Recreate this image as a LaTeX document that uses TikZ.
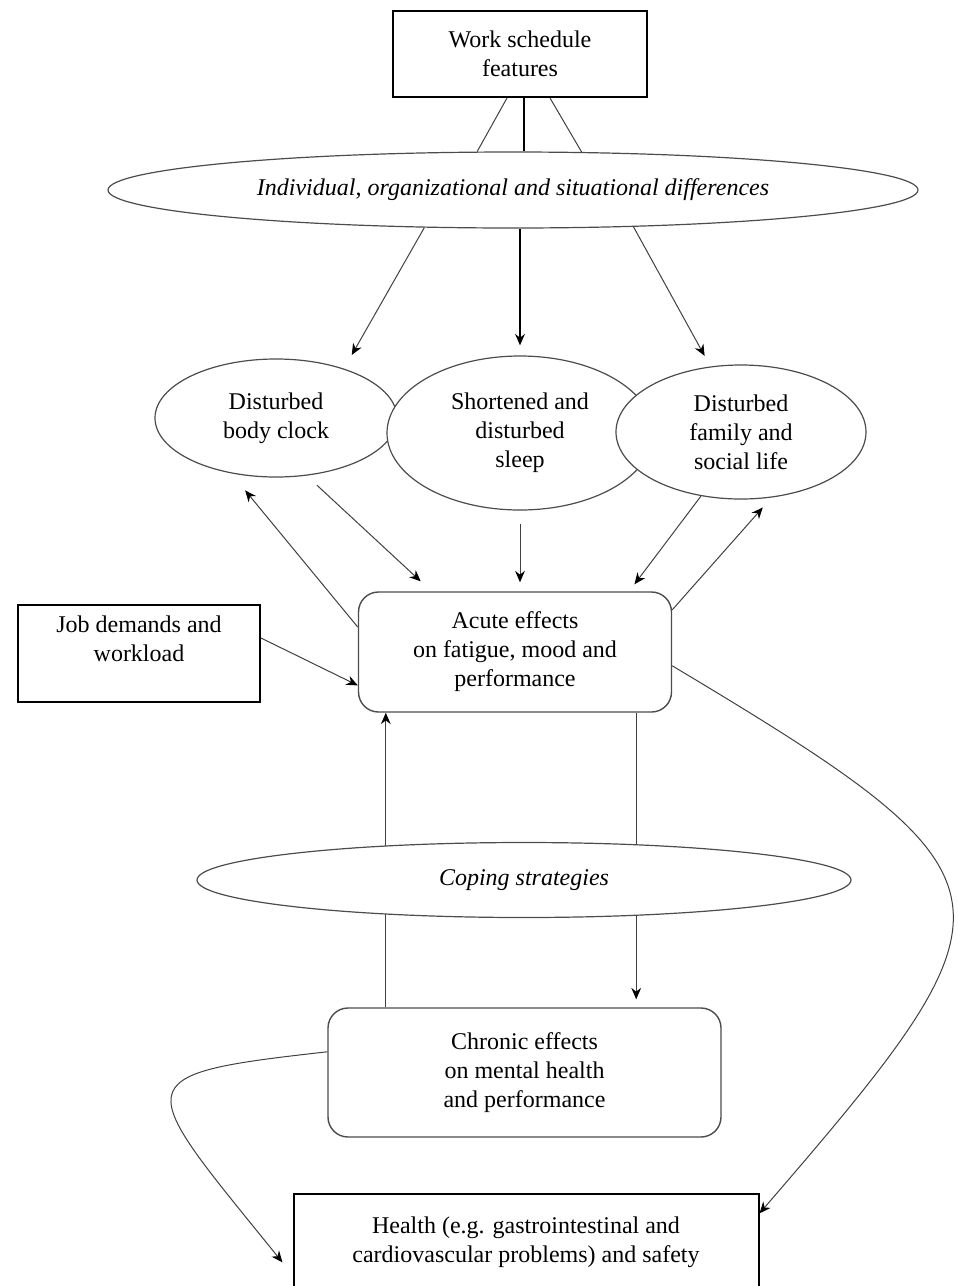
\documentclass[tikz,border=0pt]{standalone}
\usepackage{fontspec}
\setmainfont{Liberation Serif}
\usetikzlibrary{arrows.meta,shapes.geometric}

\begin{document}
\begin{tikzpicture}[x=0.5pt, y=-0.5pt, >={Stealth[length=2mm,width=1.7mm,color=black]},
  line width=0.5pt, font=\fontsize{12}{14.5}\selectfont,
  sqbox/.style={draw, line width=1pt, align=center},
  rndbox/.style={draw=black!70, line width=0.7pt, rounded corners=10pt, align=center, fill=white},
  oval/.style={draw=black!70, line width=0.6pt, ellipse, inner sep=0pt, align=center, fill=white},
  slanted/.style={font=\fontsize{12}{14.5}\selectfont\itshape},
  link/.style={draw=black!75, ->}]
  \useasboundingbox (0,0) rectangle (958,1286);

  % schedule and its moderators
  \node[sqbox, minimum width=127pt, minimum height=43pt] (sched) at (520,54) {Work schedule\\features};
  \node[oval, slanted, minimum width=405pt, minimum height=38pt] (diffs) at (513,190) {Individual, organizational and situational differences};
  \draw[draw=black!75] ([xshift=-6.5pt]sched.south) -- (diffs.133);
  \draw[line width=1.2pt] ([xshift=2pt]sched.south) -- ([xshift=2pt]sched.south |- diffs.north);
  \draw[draw=black!75] ([xshift=15pt]sched.south) -- (diffs.29);

  % the three disturbances
  \node[oval, minimum width=121pt, minimum height=59pt] (clock) at (276,418) {Disturbed\\body clock};
  \node[oval, minimum width=133pt, minimum height=77pt] (sleep) at (520,433) {Shortened and\\disturbed\\sleep};
  \node[oval, minimum width=125pt, minimum height=67pt] (family) at (741,432) {Disturbed\\family and\\social life};
  \draw[link, shorten >=7.8pt] (diffs.-157) -- (clock.36);
  \draw[link, draw=black, line width=1.2pt, shorten >=5pt] (sleep.north |- diffs.south) -- (sleep.north);
  \draw[link, shorten >=6pt] (diffs.-17) -- (family.115);

  % acute effects
  \node[rndbox, minimum width=156.5pt, minimum height=60pt] (acute) at (515,652) {Acute effects\\on fatigue, mood and\\performance};
  \node[sqbox, minimum width=121pt, minimum height=48.5pt] (job) at (139,653) {Job demands and\\workload\\\mbox{}};
  \draw[link, shorten >=11pt] (acute.171) -- (clock.-129);
  \draw[link, shorten <=7pt, shorten >=7.3pt] (clock.-62) -- (acute.144.6);
  \draw[link, shorten <=6.5pt, shorten >=4.5pt] (sleep.south) -- (sleep.south |- acute.north);
  \draw[link, shorten >=4.4pt] (family.-122) -- (acute.28.7);
  \draw[link, shorten >=6.6pt] (acute.15.7) -- (family.-65.5);
  \draw[link] (job.7.5) -- (acute.-168);

  % chronic effects, coping in between
  \node[rndbox, minimum width=196.5pt, minimum height=64.5pt] (chronic) at (524.5,1072.5) {Chronic effects\\on mental health\\and performance};
  \draw[link] ([xshift=14pt]acute.south west |- chronic.north) -- ([xshift=14pt]acute.south west);
  \draw[link, shorten >=4pt] ([xshift=-18pt]acute.south east) -- ([xshift=-18pt]acute.south east |- chronic.north);
  \node[oval, slanted, minimum width=327pt, minimum height=37.5pt] (coping) at (524,880) {Coping strategies};

  % health outcome
  \node[sqbox, minimum width=232.5pt, minimum height=48pt] (health) at (526,1242) {Health (e.g. gastrointestinal and\\cardiovascular problems) and safety};
  \draw[link] (acute.-5.5) .. controls (1030,880) and (1030,900) .. (health.7);
  \draw[link, shorten >=8pt] (chronic.174) .. controls (120,1075) and (135,1080) .. (health.-172);
\end{tikzpicture}
\end{document}
